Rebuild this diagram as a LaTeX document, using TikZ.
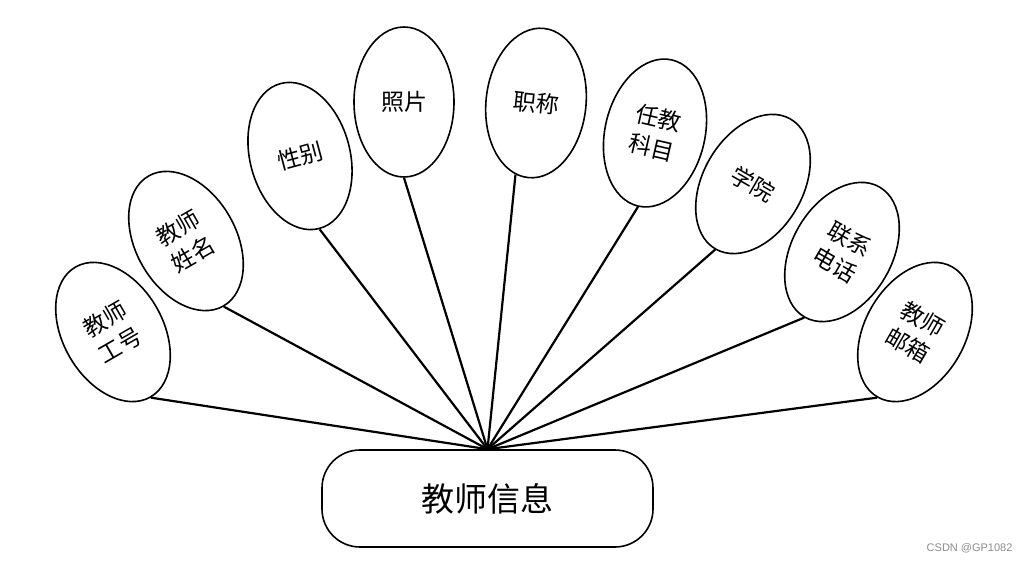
\documentclass[tikz,border=0pt]{standalone}
\usepackage{fontspec}
\newfontfamily\cjk{Noto Sans CJK SC}
\newfontfamily\wmfont{Liberation Sans}
\usetikzlibrary{shapes.geometric}
\tikzset{
  attr/.style={draw, ellipse, line width=1.6pt, minimum width=100pt, minimum height=150pt,
    inner sep=0pt, align=center, font=\cjk\fontsize{23}{30}\selectfont},
  link/.style={line width=2.2pt},
  entity/.style={draw, rounded corners=38pt, line width=1.6pt, minimum width=331pt,
    minimum height=97pt, inner sep=0pt, font=\cjk\fontsize{33}{38}\selectfont},
  wm/.style={font=\wmfont\fontsize{11}{13}\selectfont, text=black!45}
}
\begin{document}
\begin{tikzpicture}[x=1pt, y=-1pt]
\useasboundingbox (0,0) rectangle (1030,562);
\node[entity] (info) at (487.5,498.5) {教师信息};
\node[attr, rotate=30]  (e1) at (113,332) {教师\\工号};
\node[attr, rotate=30]  (e2) at (186,241) {教师\\姓名};
\node[attr, rotate=15]  (e3) at (300,156) {性别};
\node[attr]             (e4) at (404,102) {照片};
\node[attr, rotate=-6]  (e5) at (536,103) {职称};
\node[attr, rotate=-13] (e6) at (655,133) {任教\\科目};
\node[attr, rotate=-30] (e7) at (753,184) {学院};
\node[attr, rotate=-30] (e8) at (842,252) {联系\\电话};
\node[attr, rotate=-30] (e9) at (915,332) {教师\\邮箱};
\foreach \n/\a in {e1/south, e2/south, e3/south, e4/south, e5/260, e6/south, e7/south, e8/south, e9/south}
  \draw[link] (\n.\a) -- (info.north);
\node[wm, anchor=east] (mark) at (1016,548) {CSDN @GP1082};
\end{tikzpicture}
\end{document}
